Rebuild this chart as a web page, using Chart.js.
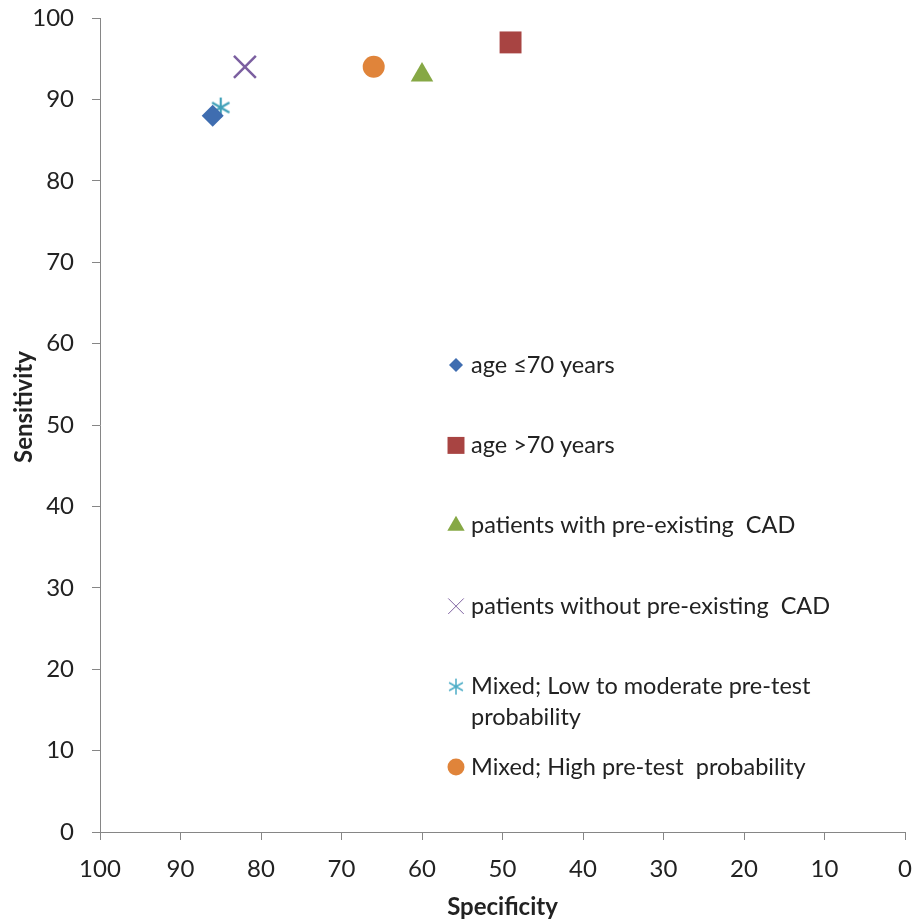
<!DOCTYPE html>
<html>
<head>
<meta charset="utf-8">
<script src="https://cdn.jsdelivr.net/npm/chart.js@4.4.1/dist/chart.umd.min.js"></script>
<style>
  html, body { margin: 0; padding: 0; background: #ffffff; }
  #wrap { width: 915px; height: 922px; position: relative; }
</style>
</head>
<body>
<div id="wrap"><canvas id="c" width="915" height="922"></canvas></div>
<script>
// ---- data ----
const seriesNames = [
  "age \u226470 years",
  "age >70 years",
  "patients with pre-existing  CAD",
  "patients without pre-existing  CAD",
  "Mixed; Low to moderate pre-test probability",
  "Mixed; High pre-test  probability"
];
const specificity = [86, 49, 60, 82, 85, 66];
const sensitivity = [88, 97, 93, 94, 89, 94];
const xTicks = [100, 90, 80, 70, 60, 50, 40, 30, 20, 10, 0];
const yTicks = [0, 10, 20, 30, 40, 50, 60, 70, 80, 90, 100];
const xTitle = "Specificity";
const yTitle = "Sensitivity";

// ---- styles ----
const colors = ["#3F6DB0", "#A84442", "#86A845", "#7B5FA0", "#3FA0B8", "#E0843A"];
const FONT = "Lato, 'Open Sans', 'DejaVu Sans', sans-serif";

// custom asterisk marker (vertical line + X), like the spreadsheet "star"
function makeAsterisk(size, color, lw) {
  const c = document.createElement('canvas');
  c.width = size; c.height = size;
  const g = c.getContext('2d');
  g.strokeStyle = color; g.lineWidth = lw; g.lineCap = 'butt';
  const m = size / 2, r = size / 2 - 1;
  g.beginPath();
  g.moveTo(m, m - r); g.lineTo(m, m + r);
  const a = Math.PI / 3;
  g.moveTo(m - r * Math.sin(a), m - r * Math.cos(a)); g.lineTo(m + r * Math.sin(a), m + r * Math.cos(a));
  g.moveTo(m + r * Math.sin(a), m - r * Math.cos(a)); g.lineTo(m - r * Math.sin(a), m + r * Math.cos(a));
  g.stroke();
  return c;
}

const markers = [
  { style: 'rectRot', r: 11, lr: 7 },
  { style: 'rect', r: 15.5, lr: 12 },
  { style: 'triangle', r: 13, lr: 10 },
  { style: 'crossRot', r: 15.5, lr: 11 },
  { style: makeAsterisk(22, colors[4], 2.2), r: 11, lr: 9, legendImg: makeAsterisk(18, '#4BACC6', 1.5) },
  { style: 'circle', r: 11, lr: 8.5 }
];

const datasets = seriesNames.map((name, i) => ({
  label: name,
  data: [{ x: specificity[i], y: sensitivity[i] }],
  pointStyle: markers[i].style,
  pointRadius: markers[i].r,
  pointHoverRadius: markers[i].r,
  backgroundColor: colors[i],
  borderColor: colors[i],
  pointBorderWidth: (markers[i].style === 'crossRot') ? 2.5 : 0,
  showLine: false
}));

// legend drawn inside the plot area
const insideLegend = {
  id: 'insideLegend',
  afterDraw(chart) {
    const ctx = chart.ctx;
    const ca = chart.chartArea;
    const mx = ca.left + 356;
    const tx = ca.left + 371;
    const y0 = ca.top + 347;
    const step = 80.4;
    const lineH = 31;
    ctx.save();
    ctx.font = "23.5px " + FONT;
    ctx.textBaseline = 'middle';
    ctx.textAlign = 'left';
    let y = y0;
    seriesNames.forEach((name, i) => {
      const m = markers[i];
      if (m.legendImg) {
        ctx.drawImage(m.legendImg, mx - 9, y - 9);
      } else {
        const isCross = m.style === 'crossRot';
        ctx.fillStyle = colors[i];
        ctx.strokeStyle = isCross ? '#8064A2' : colors[i];
        Chart.helpers.drawPoint(ctx, { pointStyle: m.style, radius: m.lr, rotation: 0, borderWidth: isCross ? 1.5 : 0 }, mx, y);
      }
      ctx.fillStyle = '#222222';
      let lines = [name];
      if (i === 4) lines = ["Mixed; Low to moderate pre-test", "probability"];
      lines.forEach((ln, k) => ctx.fillText(ln, tx, y + k * lineH));
      y += step;
    });
    ctx.restore();
  }
};

const axisColor = '#868686';
new Chart(document.getElementById('c'), {
  type: 'scatter',
  data: { datasets },
  plugins: [insideLegend],
  options: {
    responsive: false,
    animation: false,
    events: [],
    layout: { autoPadding: false, padding: { top: 18, right: 10, left: 0, bottom: 0 } },
    plugins: { legend: { display: false }, tooltip: { enabled: false } },
    scales: {
      x: {
        type: 'linear', reverse: true, min: 0, max: 100,
        afterBuildTicks: s => { s.ticks = xTicks.map(v => ({ value: v })); },
        afterFit: s => { s.height = 90; s.paddingLeft = 0; s.paddingRight = 0; },
        grid: { drawOnChartArea: false, drawTicks: true, tickLength: 8, color: axisColor, lineWidth: 1 },
        border: { color: axisColor, width: 1 },
        ticks: { color: '#222222', font: { family: FONT, size: 24 }, padding: 15, maxRotation: 0, autoSkip: false },
        title: { display: true, text: xTitle, color: '#222222', font: { family: FONT, size: 24, weight: 'bold' }, padding: { top: 0, bottom: 0 } }
      },
      y: {
        type: 'linear', min: 0, max: 100,
        afterBuildTicks: s => { s.ticks = yTicks.map(v => ({ value: v })); },
        afterFit: s => { s.width = 100; s.paddingTop = 0; s.paddingBottom = 0; },
        grid: { drawOnChartArea: false, drawTicks: true, tickLength: 8, color: axisColor, lineWidth: 1 },
        border: { color: axisColor, width: 1 },
        ticks: { color: '#222222', font: { family: FONT, size: 24 }, padding: 18, autoSkip: false },
        title: { display: true, text: "\u2003\u2003" + yTitle, color: '#222222', font: { family: FONT, size: 24, weight: 'bold' }, padding: { top: 10, bottom: 0 } }
      }
    }
  }
});
</script>
</body>
</html>
